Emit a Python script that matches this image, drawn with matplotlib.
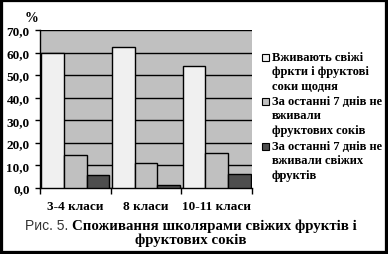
import numpy as np
import matplotlib
matplotlib.use('Agg')
import matplotlib.pyplot as plt
from matplotlib.patches import Rectangle

# data
classes = ['3-4 класи', '8 класи', '10-11 класи']
eat_daily = [60.0, 62.5, 54.2]
no_juice = [14.4, 11.2, 15.6]
no_fruit = [5.6, 1.2, 6.4]
series_names = [['Вживають свіжі', 'фркти і фруктові', 'соки щодня'],
                ['За останні 7 днів не', 'вживали', 'фруктових соків'],
                ['За останні 7 днів не', 'вживали свіжих', 'фруктів']]
yticks = [0, 10, 20, 30, 40, 50, 60, 70]
colors = ['#f0f0f0', '#c0c0c0', '#4e4e4e']

SERIF = 'Liberation Serif'
W, H = 388, 255

fig = plt.figure(figsize=(3.88, 2.55), dpi=100)
ax = fig.add_axes([40 / W, 1 - 189 / H, 212 / W, 158 / H])
ax.set_facecolor('#c0c0c0')

x = np.arange(len(classes))
w = 0.32
for i, vals in enumerate([eat_daily, no_juice, no_fruit]):
    ax.bar(x + (i - 1) * w, vals, width=w, color=colors[i], edgecolor='black',
           linewidth=1.0, zorder=3)

ax.set_xlim(-0.5, 2.5)
ax.set_ylim(0, 70)
ax.set_yticks(yticks)
ax.yaxis.set_major_formatter(plt.FuncFormatter(lambda v, p: ('%.1f' % v).replace('.', ',')))
ax.grid(axis='y', color='black', linewidth=1.0, zorder=1)
ax.set_axisbelow(True)

ax.set_xticks([-0.5, 0.5, 1.5, 2.5])
ax.set_xticklabels([])
ax.tick_params(axis='x', direction='out', length=4, width=1)
ax.tick_params(axis='y', direction='out', length=3.5, width=1, pad=4)
for lab in ax.get_yticklabels():
    lab.set_fontfamily(SERIF)
    lab.set_fontweight('bold')
    lab.set_fontsize(9.5)
for i, c in enumerate(classes):
    ax.text(i, -0.115, c, transform=ax.get_xaxis_transform(), ha='center', va='center',
            fontfamily=SERIF, fontweight='bold', fontsize=9.5)

for s in ['top', 'right']:
    ax.spines[s].set_visible(False)
ax.spines['left'].set_linewidth(1)
ax.spines['bottom'].set_linewidth(1)

fig.text(32 / W, 1 - 18 / H, '%', ha='center', va='center',
         fontfamily=SERIF, fontweight='bold', fontsize=10)

# legend drawn by hand to get Excel-like line spacing
entry_top = [58, 102, 147]
line_step = 14.4
for k, lines in enumerate(series_names):
    y0 = entry_top[k]
    fig.patches.append(Rectangle((262 / W, 1 - (y0 + 3.5) / H), 7 / W, 7 / H,
                                 transform=fig.transFigure, facecolor=colors[k],
                                 edgecolor='black', linewidth=0.8))
    for j, s in enumerate(lines):
        fig.text(272 / W, 1 - (y0 + j * line_step) / H, s, ha='left', va='center',
                 fontfamily=SERIF, fontweight='bold', fontsize=9)

# caption, two fonts on the first line
y1 = 1 - 226 / H
t1 = fig.text(0, y1, 'Рис. 5. ', fontfamily='Liberation Sans', fontsize=10,
              color='#333333', va='center', ha='left')
t2 = fig.text(0, y1, 'Споживання школярами свіжих фруктів і', fontfamily=SERIF,
              fontweight='bold', fontsize=10.7, va='center', ha='left')
fig.canvas.draw()
r = fig.canvas.get_renderer()
w1 = t1.get_window_extent(r).width
w2 = t2.get_window_extent(r).width
x0 = (191 - (w1 + w2) / 2) / W
t1.set_x(x0)
t2.set_x(x0 + w1 / W)
fig.text(191 / W, 1 - 240 / H, 'фруктових соків', fontfamily=SERIF,
         fontweight='bold', fontsize=10.7, va='center', ha='center')

fig.patches.append(Rectangle((0, 0), 1, 1, transform=fig.transFigure, fill=False,
                             edgecolor='black', linewidth=4.5))

fig.savefig('out.png', dpi=100)
